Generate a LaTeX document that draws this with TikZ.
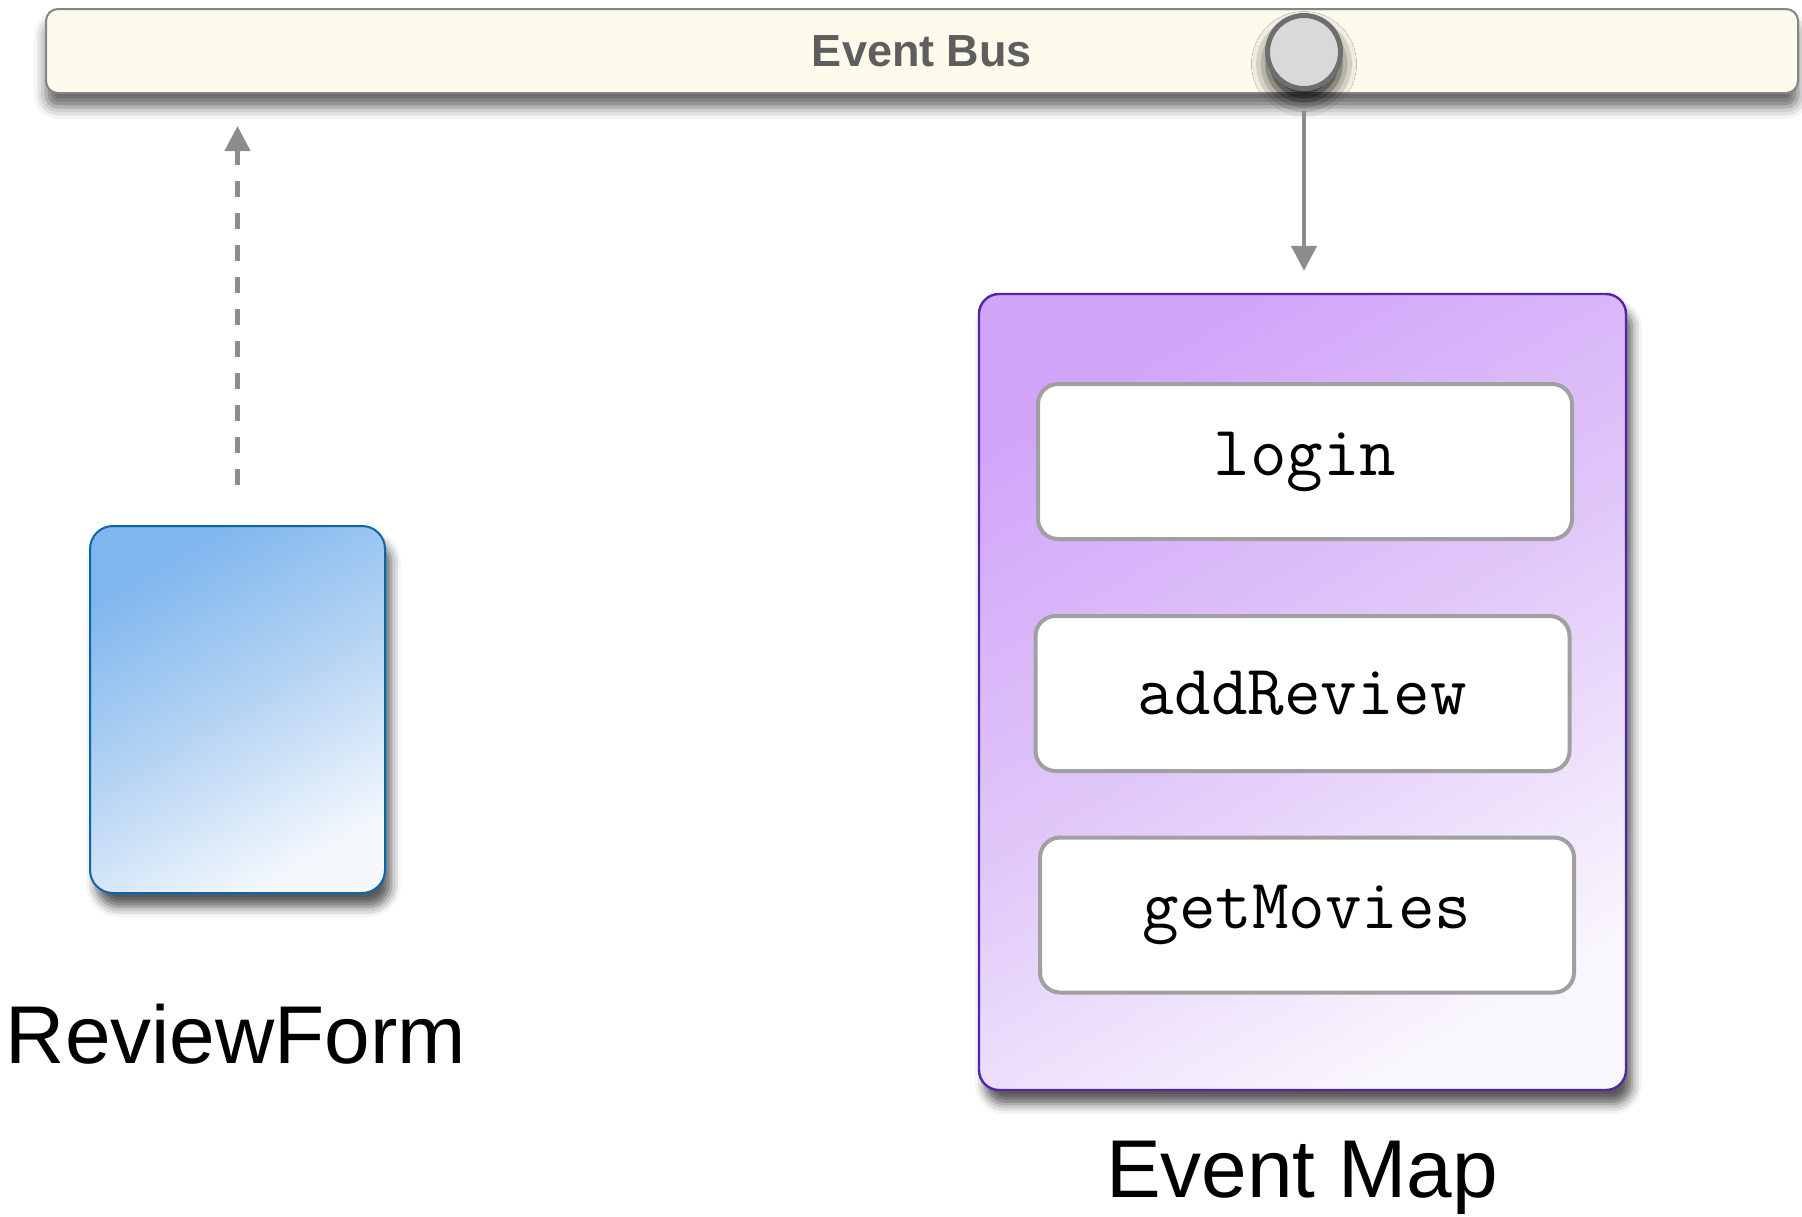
\documentclass[tikz,border=0pt]{standalone}
\usepackage{fontspec}
\setmainfont{Liberation Sans}
\usetikzlibrary{arrows.meta,positioning,shadows.blur}
\definecolor{cBusFill}{HTML}{FEFBEC}
\definecolor{cBusLine}{HTML}{858585}
\definecolor{cBusText}{HTML}{5E5E5E}
\definecolor{cHubFill}{HTML}{D9D9D9}
\definecolor{cHubLine}{HTML}{6E6E6E}
\definecolor{cArrow}{HTML}{8C8C8C}
\definecolor{cBlueTop}{HTML}{7EB6EE}
\definecolor{cBlueMid}{HTML}{B5D4F3}
\definecolor{cBlueBot}{HTML}{F4F8FD}
\definecolor{cBlueLine}{HTML}{0A66A6}
\definecolor{cVioTop}{HTML}{D1A5FA}
\definecolor{cVioMid}{HTML}{E1C8F9}
\definecolor{cVioBot}{HTML}{F9F6FD}
\definecolor{cVioLine}{HTML}{5027A8}
\definecolor{cSlotLine}{HTML}{A0A0A0}
\tikzset{
  softshadow/.style={blur shadow={shadow xshift=3pt, shadow yshift=-7pt,
    shadow blur radius=5pt, shadow opacity=65}},
  caption/.style={font=\fontsize{41}{41}\selectfont, text=black,
    anchor=base, inner sep=0pt},
}
\begin{document}
\begin{tikzpicture}[
  x=0.5pt, y=-0.5pt,
  bar/.style={rectangle, rounded corners=6pt, draw=cBusLine, line width=1pt,
    fill=cBusFill, minimum width=876pt, minimum height=42pt, inner sep=0pt,
    font=\fontsize{22.5}{22.5}\selectfont\bfseries, text=cBusText,
    blur shadow={shadow xshift=0pt, shadow yshift=-7pt,
      shadow blur radius=6pt, shadow opacity=60}},
  hubdot/.style={circle, minimum size=36.5pt, inner sep=0pt, line width=2.5pt,
    draw=cHubLine, fill=cHubFill,
    blur shadow={shadow xshift=0pt, shadow yshift=-6pt,
      shadow blur radius=8pt, shadow opacity=90}},
  card/.style={rectangle, rounded corners=11.5pt, line width=1pt,
    draw=cBlueLine, top color=cBlueTop, bottom color=cBlueBot,
    middle color=cBlueMid, shading angle=30,
    minimum width=147.5pt, minimum height=183.5pt, softshadow},
  holder/.style={rectangle, rounded corners=10pt, line width=1.2pt,
    draw=cVioLine, top color=cVioTop, bottom color=cVioBot,
    middle color=cVioMid, shading angle=30,
    minimum width=323.5pt, minimum height=398pt, softshadow},
  slot/.style={rectangle, rounded corners=10pt, line width=2pt,
    draw=cSlotLine, fill=white, minimum width=267pt, minimum height=77.5pt,
    inner sep=0pt, font=\ttfamily\fontsize{35.5}{35.5}\selectfont},
  flow/.style={-{Triangle[length=12.5pt,width=12.5pt]}, line width=2.2pt,
    draw=cArrow},
  emit/.style={flow, dash pattern=on 8pt off 8pt},
]
\useasboundingbox (0,0) rectangle (1802,1216);
% ---------------------------------------------------------------- bus
\node[bar] (bus) at (922,51) {Event Bus};
\node[hubdot] (hub) at (1304,52) {};
% ---------------------------------------------------------------- form
\node[card] (form) at (237.5,709.5) {};
\node[caption] (formlbl) at (236,1063) {ReviewForm};
% ---------------------------------------------------------------- event map
\node[holder] (evmap) at (1302.5,692) {};
\node[slot] (login) at (1305,461.5) {login};
\node[slot] (addrev) at (1302.5,693.5) {addReview};
\node[slot] (getmov) at (1307,915) {getMovies};
\node[caption] (maplbl) at (1302,1197) {Event Map};
% ---------------------------------------------------------------- arrows
\draw[emit, shorten <=20pt, shorten >=16pt] (form) -- (form |- bus.south);
\draw[flow, shorten <=10pt, shorten >=11pt] (hub) -- (hub |- evmap.north);
\end{tikzpicture}
\end{document}
